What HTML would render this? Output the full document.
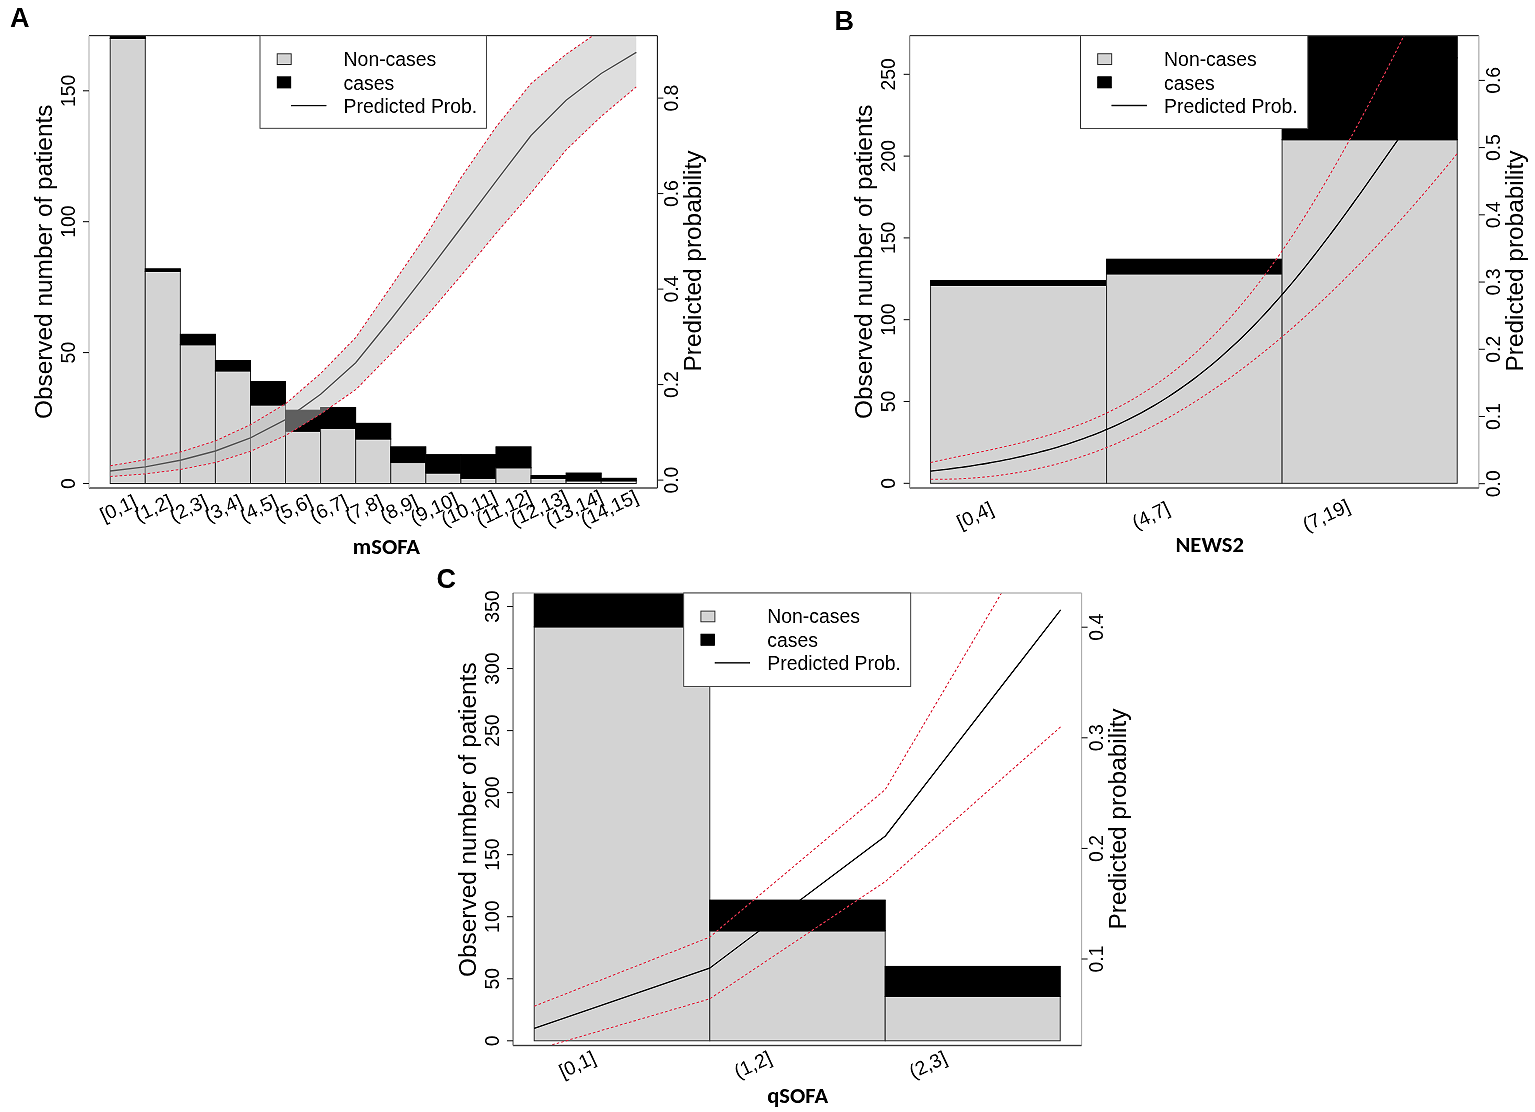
<!DOCTYPE html>
<html><head><meta charset="utf-8"><title>Figure</title><style>html,body{margin:0;padding:0;background:#fff;overflow:hidden;}svg{display:block;}</style></head><body>
<svg width="1535" height="1112" viewBox="0 0 1535 1112">
<rect width="100%" height="100%" fill="#fff"/>
<filter id="sh" x="0" y="0" width="1535" height="1112" filterUnits="userSpaceOnUse" color-interpolation-filters="sRGB"><feConvolveMatrix order="3" kernelMatrix="0 -0.15 0 -0.15 1.6 -0.15 0 -0.15 0" preserveAlpha="true"/></filter>
<g filter="url(#sh)">
<rect width="1535" height="1112" fill="#fff"/>
<defs><clipPath id="cA"><rect x="89" y="35.7" width="568.4" height="452.2"/></clipPath><clipPath id="cB"><rect x="909.65" y="35.7" width="568.85" height="452.2"/></clipPath><clipPath id="cC"><rect x="513.05" y="593.2" width="568.55" height="452.2"/></clipPath></defs>
<text x="10" y="27.2" font-family="Liberation Sans, Arimo, Arial, Helvetica, sans-serif" font-weight="bold" font-size="27">A</text>
<g clip-path="url(#cA)">
<rect x="110.2" y="38.44" width="35.07" height="445.06" fill="#d3d3d3" stroke="#3c3c3c" stroke-width="1"/>
<rect x="110.2" y="35.7" width="35.07" height="2.74" fill="#000" stroke="#000" stroke-width="1"/>
<rect x="145.27" y="271.44" width="35.07" height="212.06" fill="#d3d3d3" stroke="#3c3c3c" stroke-width="1"/>
<rect x="145.27" y="268.82" width="35.07" height="2.62" fill="#000" stroke="#000" stroke-width="1"/>
<rect x="180.34" y="344.75" width="35.07" height="138.75" fill="#d3d3d3" stroke="#3c3c3c" stroke-width="1"/>
<rect x="180.34" y="334.27" width="35.07" height="10.47" fill="#000" stroke="#000" stroke-width="1"/>
<rect x="215.41" y="370.93" width="35.07" height="112.57" fill="#d3d3d3" stroke="#3c3c3c" stroke-width="1"/>
<rect x="215.41" y="360.45" width="35.07" height="10.47" fill="#000" stroke="#000" stroke-width="1"/>
<rect x="250.48" y="404.96" width="35.07" height="78.54" fill="#d3d3d3" stroke="#3c3c3c" stroke-width="1"/>
<rect x="250.48" y="381.4" width="35.07" height="23.56" fill="#000" stroke="#000" stroke-width="1"/>
<rect x="285.55" y="431.14" width="35.07" height="52.36" fill="#d3d3d3" stroke="#3c3c3c" stroke-width="1"/>
<rect x="285.55" y="410.2" width="35.07" height="20.94" fill="#000" stroke="#000" stroke-width="1"/>
<rect x="320.62" y="428.52" width="35.07" height="54.98" fill="#d3d3d3" stroke="#3c3c3c" stroke-width="1"/>
<rect x="320.62" y="407.58" width="35.07" height="20.94" fill="#000" stroke="#000" stroke-width="1"/>
<rect x="355.69" y="438.99" width="35.07" height="44.51" fill="#d3d3d3" stroke="#3c3c3c" stroke-width="1"/>
<rect x="355.69" y="423.29" width="35.07" height="15.71" fill="#000" stroke="#000" stroke-width="1"/>
<rect x="390.76" y="462.56" width="35.07" height="20.94" fill="#d3d3d3" stroke="#3c3c3c" stroke-width="1"/>
<rect x="390.76" y="446.85" width="35.07" height="15.71" fill="#000" stroke="#000" stroke-width="1"/>
<rect x="425.83" y="473.03" width="35.07" height="10.47" fill="#d3d3d3" stroke="#3c3c3c" stroke-width="1"/>
<rect x="425.83" y="454.7" width="35.07" height="18.33" fill="#000" stroke="#000" stroke-width="1"/>
<rect x="460.9" y="478.26" width="35.07" height="5.24" fill="#d3d3d3" stroke="#3c3c3c" stroke-width="1"/>
<rect x="460.9" y="454.7" width="35.07" height="23.56" fill="#000" stroke="#000" stroke-width="1"/>
<rect x="495.97" y="467.79" width="35.07" height="15.71" fill="#d3d3d3" stroke="#3c3c3c" stroke-width="1"/>
<rect x="495.97" y="446.85" width="35.07" height="20.94" fill="#000" stroke="#000" stroke-width="1"/>
<rect x="531.04" y="478.26" width="35.07" height="5.24" fill="#d3d3d3" stroke="#3c3c3c" stroke-width="1"/>
<rect x="531.04" y="475.65" width="35.07" height="2.62" fill="#000" stroke="#000" stroke-width="1"/>
<rect x="566.11" y="480.88" width="35.07" height="2.62" fill="#d3d3d3" stroke="#3c3c3c" stroke-width="1"/>
<rect x="566.11" y="473.03" width="35.07" height="7.85" fill="#000" stroke="#000" stroke-width="1"/>
<rect x="601.18" y="480.88" width="35.07" height="2.62" fill="#d3d3d3" stroke="#3c3c3c" stroke-width="1"/>
<rect x="601.18" y="478.26" width="35.07" height="2.62" fill="#000" stroke="#000" stroke-width="1"/>
<polyline points="110.2,471 145.27,466.9 180.34,460.3 215.41,451 250.48,437.8 285.55,419.6 320.62,394.2 355.69,362.8 390.76,319.5 425.83,274.4 460.9,228 495.97,181.3 531.04,135.5 566.11,100.2 601.18,73.5 636.25,52.3" fill="none" stroke="#000" stroke-width="1.4"/>
<polygon points="110.2,465.8 145.27,459.8 180.34,452 215.41,440.9 250.48,424.7 285.55,403.8 320.62,373.5 355.69,337.6 390.76,287 425.83,235.8 460.9,177.9 495.97,127.1 531.04,83.6 566.11,54.3 601.18,29.9 636.25,10 636.25,86.9 601.18,116.4 566.11,149.9 531.04,192.9 495.97,233.4 460.9,275.8 425.83,316.9 390.76,354.1 355.69,389.7 320.62,414 285.55,435.5 250.48,451.3 215.41,462.5 180.34,469.5 145.27,473.9 110.2,476.5" fill="#bebebe" fill-opacity="0.5" stroke="none"/>
<polyline points="110.2,465.8 145.27,459.8 180.34,452 215.41,440.9 250.48,424.7 285.55,403.8 320.62,373.5 355.69,337.6 390.76,287 425.83,235.8 460.9,177.9 495.97,127.1 531.04,83.6 566.11,54.3 601.18,29.9 636.25,10" fill="none" stroke="#e0344c" stroke-width="1.05" stroke-dasharray="2.6 2.1"/>
<polyline points="110.2,476.5 145.27,473.9 180.34,469.5 215.41,462.5 250.48,451.3 285.55,435.5 320.62,414 355.69,389.7 390.76,354.1 425.83,316.9 460.9,275.8 495.97,233.4 531.04,192.9 566.11,149.9 601.18,116.4 636.25,86.9" fill="none" stroke="#e0344c" stroke-width="1.05" stroke-dasharray="2.6 2.1"/>
</g>
<line x1="89" y1="35.7" x2="657.4" y2="35.7" stroke="#4a4a4a" stroke-width="1.2"/>
<line x1="657.4" y1="35.7" x2="657.4" y2="487.9" stroke="#454545" stroke-width="1.2"/>
<line x1="89" y1="487.9" x2="657.4" y2="487.9" stroke="#5a5a5a" stroke-width="1.5"/>
<line x1="89" y1="35.7" x2="89" y2="487.9" stroke="#c4c4c4" stroke-width="1.3"/>
<rect x="260" y="35.7" width="226.4" height="92.6" fill="#fff" stroke="#555" stroke-width="1"/>
<rect x="277.2" y="53.8" width="14" height="10.7" fill="#d3d3d3" stroke="#444" stroke-width="1"/>
<rect x="277.2" y="76.8" width="13.6" height="11.2" fill="#000" stroke="#000" stroke-width="0.8"/>
<line x1="291" y1="105.6" x2="326.4" y2="105.6" stroke="#000" stroke-width="1.4"/>
<text x="343.6" y="66" font-family="Liberation Sans, Arimo, Arial, Helvetica, sans-serif" font-size="19.4">Non-cases</text>
<text x="343.6" y="89.8" font-family="Liberation Sans, Arimo, Arial, Helvetica, sans-serif" font-size="19.4">cases</text>
<text x="343.6" y="112.8" font-family="Liberation Sans, Arimo, Arial, Helvetica, sans-serif" font-size="19.4">Predicted Prob.</text>
<line x1="83" y1="483.5" x2="89" y2="483.5" stroke="#333" stroke-width="1.1"/>
<text transform="translate(74.8,483.5) rotate(-90)" text-anchor="middle" font-family="Liberation Sans, Arimo, Arial, Helvetica, sans-serif" font-size="19.4">0</text>
<line x1="83" y1="352.6" x2="89" y2="352.6" stroke="#333" stroke-width="1.1"/>
<text transform="translate(74.8,352.6) rotate(-90)" text-anchor="middle" font-family="Liberation Sans, Arimo, Arial, Helvetica, sans-serif" font-size="19.4">50</text>
<line x1="83" y1="221.7" x2="89" y2="221.7" stroke="#333" stroke-width="1.1"/>
<text transform="translate(74.8,221.7) rotate(-90)" text-anchor="middle" font-family="Liberation Sans, Arimo, Arial, Helvetica, sans-serif" font-size="19.4">100</text>
<line x1="83" y1="90.8" x2="89" y2="90.8" stroke="#333" stroke-width="1.1"/>
<text transform="translate(74.8,90.8) rotate(-90)" text-anchor="middle" font-family="Liberation Sans, Arimo, Arial, Helvetica, sans-serif" font-size="19.4">150</text>
<line x1="657.4" y1="480.1" x2="663.4" y2="480.1" stroke="#333" stroke-width="1.1"/>
<text transform="translate(678.3,480.1) rotate(-90)" text-anchor="middle" font-family="Liberation Sans, Arimo, Arial, Helvetica, sans-serif" font-size="19.4">0.0</text>
<line x1="657.4" y1="384.6" x2="663.4" y2="384.6" stroke="#333" stroke-width="1.1"/>
<text transform="translate(678.3,384.6) rotate(-90)" text-anchor="middle" font-family="Liberation Sans, Arimo, Arial, Helvetica, sans-serif" font-size="19.4">0.2</text>
<line x1="657.4" y1="289.1" x2="663.4" y2="289.1" stroke="#333" stroke-width="1.1"/>
<text transform="translate(678.3,289.1) rotate(-90)" text-anchor="middle" font-family="Liberation Sans, Arimo, Arial, Helvetica, sans-serif" font-size="19.4">0.4</text>
<line x1="657.4" y1="193.6" x2="663.4" y2="193.6" stroke="#333" stroke-width="1.1"/>
<text transform="translate(678.3,193.6) rotate(-90)" text-anchor="middle" font-family="Liberation Sans, Arimo, Arial, Helvetica, sans-serif" font-size="19.4">0.6</text>
<line x1="657.4" y1="98.1" x2="663.4" y2="98.1" stroke="#333" stroke-width="1.1"/>
<text transform="translate(678.3,98.1) rotate(-90)" text-anchor="middle" font-family="Liberation Sans, Arimo, Arial, Helvetica, sans-serif" font-size="19.4">0.8</text>
<text transform="translate(51.6,261.8) rotate(-90)" text-anchor="middle" font-family="Liberation Sans, Arimo, Arial, Helvetica, sans-serif" font-size="24.4">Observed number of patients</text>
<text transform="translate(701.3,261) rotate(-90)" text-anchor="middle" font-family="Liberation Sans, Arimo, Arial, Helvetica, sans-serif" font-size="24.4">Predicted probability</text>
<text transform="translate(120.99,514.15) rotate(-25)" text-anchor="middle" font-family="Liberation Sans, Arimo, Arial, Helvetica, sans-serif" font-size="19.4">[0,1]</text>
<text transform="translate(156.06,514.15) rotate(-25)" text-anchor="middle" font-family="Liberation Sans, Arimo, Arial, Helvetica, sans-serif" font-size="19.4">(1,2]</text>
<text transform="translate(191.12,514.15) rotate(-25)" text-anchor="middle" font-family="Liberation Sans, Arimo, Arial, Helvetica, sans-serif" font-size="19.4">(2,3]</text>
<text transform="translate(226.2,514.15) rotate(-25)" text-anchor="middle" font-family="Liberation Sans, Arimo, Arial, Helvetica, sans-serif" font-size="19.4">(3,4]</text>
<text transform="translate(261.26,514.15) rotate(-25)" text-anchor="middle" font-family="Liberation Sans, Arimo, Arial, Helvetica, sans-serif" font-size="19.4">(4,5]</text>
<text transform="translate(296.34,514.15) rotate(-25)" text-anchor="middle" font-family="Liberation Sans, Arimo, Arial, Helvetica, sans-serif" font-size="19.4">(5,6]</text>
<text transform="translate(331.4,514.15) rotate(-25)" text-anchor="middle" font-family="Liberation Sans, Arimo, Arial, Helvetica, sans-serif" font-size="19.4">(6,7]</text>
<text transform="translate(366.48,514.15) rotate(-25)" text-anchor="middle" font-family="Liberation Sans, Arimo, Arial, Helvetica, sans-serif" font-size="19.4">(7,8]</text>
<text transform="translate(401.54,514.15) rotate(-25)" text-anchor="middle" font-family="Liberation Sans, Arimo, Arial, Helvetica, sans-serif" font-size="19.4">(8,9]</text>
<text transform="translate(436.62,514.15) rotate(-25)" text-anchor="middle" font-family="Liberation Sans, Arimo, Arial, Helvetica, sans-serif" font-size="19.4">(9,10]</text>
<text transform="translate(471.68,514.15) rotate(-25)" text-anchor="middle" font-family="Liberation Sans, Arimo, Arial, Helvetica, sans-serif" font-size="19.4">(10,11]</text>
<text transform="translate(506.75,514.15) rotate(-25)" text-anchor="middle" font-family="Liberation Sans, Arimo, Arial, Helvetica, sans-serif" font-size="19.4">(11,12]</text>
<text transform="translate(541.83,514.15) rotate(-25)" text-anchor="middle" font-family="Liberation Sans, Arimo, Arial, Helvetica, sans-serif" font-size="19.4">(12,13]</text>
<text transform="translate(576.89,514.15) rotate(-25)" text-anchor="middle" font-family="Liberation Sans, Arimo, Arial, Helvetica, sans-serif" font-size="19.4">(13,14]</text>
<text transform="translate(611.97,514.15) rotate(-25)" text-anchor="middle" font-family="Liberation Sans, Arimo, Arial, Helvetica, sans-serif" font-size="19.4">(14,15]</text>
<text x="386.4" y="553.9" text-anchor="middle" font-family="Carlito, Calibri, Liberation Sans, sans-serif" font-weight="bold" font-size="22.6">mSOFA</text>
<text x="834.4" y="29.8" font-family="Liberation Sans, Arimo, Arial, Helvetica, sans-serif" font-weight="bold" font-size="27">B</text>
<g clip-path="url(#cB)">
<rect x="930.6" y="285.34" width="176" height="197.96" fill="#d3d3d3" stroke="#3c3c3c" stroke-width="1"/>
<rect x="930.6" y="280.44" width="176" height="4.91" fill="#000" stroke="#000" stroke-width="1"/>
<rect x="1106.6" y="273.89" width="175.5" height="209.41" fill="#d3d3d3" stroke="#3c3c3c" stroke-width="1"/>
<rect x="1106.6" y="259.17" width="175.5" height="14.72" fill="#000" stroke="#000" stroke-width="1"/>
<rect x="1282.1" y="139.74" width="175.1" height="343.56" fill="#d3d3d3" stroke="#3c3c3c" stroke-width="1"/>
<rect x="1282.1" y="35.65" width="175.1" height="104.09" fill="#000" stroke="#000" stroke-width="1"/>
<polyline points="930.6,471.15 934.99,470.66 939.38,470.15 943.76,469.63 948.15,469.08 952.54,468.52 956.93,467.94 961.32,467.33 965.71,466.71 970.1,466.06 974.48,465.38 978.87,464.69 983.26,463.97 987.65,463.22 992.04,462.45 996.43,461.65 1000.81,460.82 1005.2,459.96 1009.59,459.07 1013.98,458.16 1018.37,457.2 1022.75,456.22 1027.14,455.2 1031.53,454.15 1035.92,453.06 1040.31,451.93 1044.7,450.77 1049.09,449.56 1053.47,448.31 1057.86,447.03 1062.25,445.7 1066.64,444.32 1071.03,442.9 1075.41,441.43 1079.8,439.91 1084.19,438.34 1088.58,436.72 1092.97,435.05 1097.36,433.33 1101.75,431.55 1106.13,429.71 1110.52,427.81 1114.91,425.86 1119.3,423.84 1123.69,421.76 1128.08,419.62 1132.46,417.41 1136.85,415.14 1141.24,412.8 1145.63,410.38 1150.02,407.9 1154.4,405.34 1158.79,402.71 1163.18,400.01 1167.57,397.23 1171.96,394.37 1176.35,391.43 1180.74,388.41 1185.12,385.31 1189.51,382.13 1193.9,378.86 1198.29,375.51 1202.68,372.07 1207.07,368.55 1211.45,364.94 1215.84,361.24 1220.23,357.46 1224.62,353.58 1229.01,349.62 1233.39,345.57 1237.78,341.42 1242.17,337.19 1246.56,332.87 1250.95,328.45 1255.34,323.95 1259.72,319.36 1264.11,314.69 1268.5,309.92 1272.89,305.07 1277.28,300.13 1281.67,295.11 1286.06,290.01 1290.44,284.83 1294.83,279.56 1299.22,274.22 1303.61,268.81 1308,263.32 1312.38,257.76 1316.77,252.13 1321.16,246.44 1325.55,240.68 1329.94,234.87 1334.33,228.99 1338.72,223.07 1343.1,217.09 1347.49,211.07 1351.88,205.01 1356.27,198.91 1360.66,192.77 1365.05,186.6 1369.43,180.4 1373.82,174.19 1378.21,167.95 1382.6,161.7 1386.99,155.44 1391.38,149.17 1395.76,142.91 1400.15,136.64 1404.54,130.38 1408.93,124.14 1413.32,117.91 1417.71,111.7 1422.09,105.52 1426.48,99.36 1430.87,93.24 1435.26,87.15 1439.65,81.1 1444.04,75.1 1448.42,69.14 1452.81,63.24 1457.2,57.39" fill="none" stroke="#000" stroke-width="1.35"/>
<polyline points="930.6,462.51 934.99,461.55 939.38,460.6 943.76,459.66 948.15,458.73 952.54,457.81 956.93,456.9 961.32,455.98 965.71,455.07 970.1,454.16 974.48,453.25 978.87,452.33 983.26,451.4 987.65,450.46 992.04,449.51 996.43,448.55 1000.81,447.57 1005.2,446.56 1009.59,445.54 1013.98,444.5 1018.37,443.43 1022.75,442.33 1027.14,441.2 1031.53,440.04 1035.92,438.85 1040.31,437.62 1044.7,436.35 1049.09,435.04 1053.47,433.69 1057.86,432.29 1062.25,430.84 1066.64,429.35 1071.03,427.8 1075.41,426.19 1079.8,424.54 1084.19,422.82 1088.58,421.04 1092.97,419.2 1097.36,417.29 1101.75,415.32 1106.13,413.28 1110.52,411.16 1114.91,408.97 1119.3,406.7 1123.69,404.36 1128.08,401.93 1132.46,399.43 1136.85,396.83 1141.24,394.15 1145.63,391.38 1150.02,388.52 1154.4,385.56 1158.79,382.51 1163.18,379.36 1167.57,376.11 1171.96,372.76 1176.35,369.3 1180.74,365.73 1185.12,362.05 1189.51,358.27 1193.9,354.37 1198.29,350.35 1202.68,346.22 1207.07,341.97 1211.45,337.61 1215.84,333.13 1220.23,328.53 1224.62,323.82 1229.01,318.99 1233.39,314.03 1237.78,308.96 1242.17,303.77 1246.56,298.46 1250.95,293.03 1255.34,287.47 1259.72,281.79 1264.11,275.99 1268.5,270.07 1272.89,264.03 1277.28,257.85 1281.67,251.56 1286.06,245.14 1290.44,238.59 1294.83,231.93 1299.22,225.15 1303.61,218.26 1308,211.25 1312.38,204.13 1316.77,196.91 1321.16,189.59 1325.55,182.16 1329.94,174.64 1334.33,167.02 1338.72,159.32 1343.1,151.52 1347.49,143.63 1351.88,135.67 1356.27,127.62 1360.66,119.49 1365.05,111.29 1369.43,103.02 1373.82,94.68 1378.21,86.27 1382.6,77.8 1386.99,69.27 1391.38,60.67 1395.76,52.03 1400.15,43.33 1404.54,34.58 1408.93,25.79" fill="none" stroke="#e0344c" stroke-width="1.05" stroke-dasharray="2.6 2.1"/>
<polyline points="930.6,479.27 934.99,479.3 939.38,479.29 943.76,479.25 948.15,479.17 952.54,479.05 956.93,478.9 961.32,478.7 965.71,478.47 970.1,478.2 974.48,477.88 978.87,477.53 983.26,477.14 987.65,476.7 992.04,476.22 996.43,475.71 1000.81,475.14 1005.2,474.54 1009.59,473.89 1013.98,473.2 1018.37,472.46 1022.75,471.68 1027.14,470.85 1031.53,469.98 1035.92,469.06 1040.31,468.1 1044.7,467.08 1049.09,466.02 1053.47,464.92 1057.86,463.76 1062.25,462.56 1066.64,461.3 1071.03,460 1075.41,458.65 1079.8,457.24 1084.19,455.79 1088.58,454.28 1092.97,452.72 1097.36,451.11 1101.75,449.45 1106.13,447.73 1110.52,445.96 1114.91,444.14 1119.3,442.26 1123.69,440.33 1128.08,438.35 1132.46,436.31 1136.85,434.23 1141.24,432.09 1145.63,429.89 1150.02,427.65 1154.4,425.35 1158.79,423.01 1163.18,420.61 1167.57,418.16 1171.96,415.66 1176.35,413.11 1180.74,410.5 1185.12,407.85 1189.51,405.15 1193.9,402.4 1198.29,399.59 1202.68,396.74 1207.07,393.84 1211.45,390.89 1215.84,387.89 1220.23,384.85 1224.62,381.75 1229.01,378.6 1233.39,375.41 1237.78,372.17 1242.17,368.88 1246.56,365.54 1250.95,362.16 1255.34,358.73 1259.72,355.25 1264.11,351.73 1268.5,348.16 1272.89,344.54 1277.28,340.88 1281.67,337.17 1286.06,333.41 1290.44,329.61 1294.83,325.77 1299.22,321.88 1303.61,317.94 1308,313.96 1312.38,309.94 1316.77,305.87 1321.16,301.76 1325.55,297.6 1329.94,293.4 1334.33,289.16 1338.72,284.88 1343.1,280.55 1347.49,276.18 1351.88,271.77 1356.27,267.31 1360.66,262.82 1365.05,258.28 1369.43,253.7 1373.82,249.08 1378.21,244.42 1382.6,239.71 1386.99,234.97 1391.38,230.19 1395.76,225.36 1400.15,220.5 1404.54,215.59 1408.93,210.65 1413.32,205.66 1417.71,200.64 1422.09,195.57 1426.48,190.47 1430.87,185.33 1435.26,180.15 1439.65,174.93 1444.04,169.67 1448.42,164.37 1452.81,159.04 1457.2,153.66" fill="none" stroke="#e0344c" stroke-width="1.05" stroke-dasharray="2.6 2.1"/>
</g>
<line x1="909.65" y1="35.65" x2="1478.85" y2="35.65" stroke="#555" stroke-width="1.2"/>
<line x1="1478.85" y1="35.65" x2="1478.85" y2="487.9" stroke="#b4b4b4" stroke-width="1.2"/>
<line x1="909.65" y1="487.9" x2="1478.85" y2="487.9" stroke="#666" stroke-width="1.5"/>
<line x1="909.65" y1="35.65" x2="909.65" y2="487.9" stroke="#999" stroke-width="1.3"/>
<rect x="1080.5" y="35.65" width="227.3" height="92.75" fill="#fff" stroke="#555" stroke-width="1"/>
<rect x="1097.7" y="53.75" width="14" height="10.7" fill="#d3d3d3" stroke="#444" stroke-width="1"/>
<rect x="1097.7" y="76.75" width="13.6" height="11.2" fill="#000" stroke="#000" stroke-width="0.8"/>
<line x1="1111.5" y1="105.55" x2="1146.9" y2="105.55" stroke="#000" stroke-width="1.4"/>
<text x="1164.1" y="65.95" font-family="Liberation Sans, Arimo, Arial, Helvetica, sans-serif" font-size="19.4">Non-cases</text>
<text x="1164.1" y="89.75" font-family="Liberation Sans, Arimo, Arial, Helvetica, sans-serif" font-size="19.4">cases</text>
<text x="1164.1" y="112.75" font-family="Liberation Sans, Arimo, Arial, Helvetica, sans-serif" font-size="19.4">Predicted Prob.</text>
<line x1="903.65" y1="483.3" x2="909.65" y2="483.3" stroke="#333" stroke-width="1.1"/>
<text transform="translate(895.45,483.3) rotate(-90)" text-anchor="middle" font-family="Liberation Sans, Arimo, Arial, Helvetica, sans-serif" font-size="19.4">0</text>
<line x1="903.65" y1="401.5" x2="909.65" y2="401.5" stroke="#333" stroke-width="1.1"/>
<text transform="translate(895.45,401.5) rotate(-90)" text-anchor="middle" font-family="Liberation Sans, Arimo, Arial, Helvetica, sans-serif" font-size="19.4">50</text>
<line x1="903.65" y1="319.7" x2="909.65" y2="319.7" stroke="#333" stroke-width="1.1"/>
<text transform="translate(895.45,319.7) rotate(-90)" text-anchor="middle" font-family="Liberation Sans, Arimo, Arial, Helvetica, sans-serif" font-size="19.4">100</text>
<line x1="903.65" y1="237.9" x2="909.65" y2="237.9" stroke="#333" stroke-width="1.1"/>
<text transform="translate(895.45,237.9) rotate(-90)" text-anchor="middle" font-family="Liberation Sans, Arimo, Arial, Helvetica, sans-serif" font-size="19.4">150</text>
<line x1="903.65" y1="156.1" x2="909.65" y2="156.1" stroke="#333" stroke-width="1.1"/>
<text transform="translate(895.45,156.1) rotate(-90)" text-anchor="middle" font-family="Liberation Sans, Arimo, Arial, Helvetica, sans-serif" font-size="19.4">200</text>
<line x1="903.65" y1="74.3" x2="909.65" y2="74.3" stroke="#333" stroke-width="1.1"/>
<text transform="translate(895.45,74.3) rotate(-90)" text-anchor="middle" font-family="Liberation Sans, Arimo, Arial, Helvetica, sans-serif" font-size="19.4">250</text>
<line x1="1478.85" y1="483.7" x2="1484.85" y2="483.7" stroke="#333" stroke-width="1.1"/>
<text transform="translate(1499.75,483.7) rotate(-90)" text-anchor="middle" font-family="Liberation Sans, Arimo, Arial, Helvetica, sans-serif" font-size="19.4">0.0</text>
<line x1="1478.85" y1="416.48" x2="1484.85" y2="416.48" stroke="#333" stroke-width="1.1"/>
<text transform="translate(1499.75,416.48) rotate(-90)" text-anchor="middle" font-family="Liberation Sans, Arimo, Arial, Helvetica, sans-serif" font-size="19.4">0.1</text>
<line x1="1478.85" y1="349.26" x2="1484.85" y2="349.26" stroke="#333" stroke-width="1.1"/>
<text transform="translate(1499.75,349.26) rotate(-90)" text-anchor="middle" font-family="Liberation Sans, Arimo, Arial, Helvetica, sans-serif" font-size="19.4">0.2</text>
<line x1="1478.85" y1="282.04" x2="1484.85" y2="282.04" stroke="#333" stroke-width="1.1"/>
<text transform="translate(1499.75,282.04) rotate(-90)" text-anchor="middle" font-family="Liberation Sans, Arimo, Arial, Helvetica, sans-serif" font-size="19.4">0.3</text>
<line x1="1478.85" y1="214.82" x2="1484.85" y2="214.82" stroke="#333" stroke-width="1.1"/>
<text transform="translate(1499.75,214.82) rotate(-90)" text-anchor="middle" font-family="Liberation Sans, Arimo, Arial, Helvetica, sans-serif" font-size="19.4">0.4</text>
<line x1="1478.85" y1="147.6" x2="1484.85" y2="147.6" stroke="#333" stroke-width="1.1"/>
<text transform="translate(1499.75,147.6) rotate(-90)" text-anchor="middle" font-family="Liberation Sans, Arimo, Arial, Helvetica, sans-serif" font-size="19.4">0.5</text>
<line x1="1478.85" y1="80.38" x2="1484.85" y2="80.38" stroke="#333" stroke-width="1.1"/>
<text transform="translate(1499.75,80.38) rotate(-90)" text-anchor="middle" font-family="Liberation Sans, Arimo, Arial, Helvetica, sans-serif" font-size="19.4">0.6</text>
<text transform="translate(872.25,261.8) rotate(-90)" text-anchor="middle" font-family="Liberation Sans, Arimo, Arial, Helvetica, sans-serif" font-size="24.4">Observed number of patients</text>
<text transform="translate(1522.75,261) rotate(-90)" text-anchor="middle" font-family="Liberation Sans, Arimo, Arial, Helvetica, sans-serif" font-size="24.4">Predicted probability</text>
<text transform="translate(977.9,521.2) rotate(-25)" text-anchor="middle" font-family="Liberation Sans, Arimo, Arial, Helvetica, sans-serif" font-size="19.4">[0,4]</text>
<text transform="translate(1153.65,521.2) rotate(-25)" text-anchor="middle" font-family="Liberation Sans, Arimo, Arial, Helvetica, sans-serif" font-size="19.4">(4,7]</text>
<text transform="translate(1328.95,521.2) rotate(-25)" text-anchor="middle" font-family="Liberation Sans, Arimo, Arial, Helvetica, sans-serif" font-size="19.4">(7,19]</text>
<text x="1209.7" y="551.7" text-anchor="middle" font-family="Carlito, Calibri, Liberation Sans, sans-serif" font-weight="bold" font-size="22.6">NEWS2</text>
<text x="436.4" y="587.8" font-family="Liberation Sans, Arimo, Arial, Helvetica, sans-serif" font-weight="bold" font-size="27">C</text>
<g clip-path="url(#cC)">
<rect x="534.2" y="626.9" width="175.6" height="413.9" fill="#d3d3d3" stroke="#3c3c3c" stroke-width="1"/>
<rect x="534.2" y="593" width="175.6" height="33.9" fill="#000" stroke="#000" stroke-width="1"/>
<rect x="709.8" y="930.87" width="175.4" height="109.93" fill="#d3d3d3" stroke="#3c3c3c" stroke-width="1"/>
<rect x="709.8" y="900.1" width="175.4" height="30.77" fill="#000" stroke="#000" stroke-width="1"/>
<rect x="885.2" y="996.51" width="175" height="44.29" fill="#d3d3d3" stroke="#3c3c3c" stroke-width="1"/>
<rect x="885.2" y="966.36" width="175" height="30.15" fill="#000" stroke="#000" stroke-width="1"/>
<polyline points="534.2,1028.4 709.6,968.2 885.4,836 1060.7,609.9" fill="none" stroke="#000" stroke-width="1.3"/>
<polyline points="534.2,1006.2 709.6,937.2 885.2,789.6 1060.7,493" fill="none" stroke="#e0344c" stroke-width="1.05" stroke-dasharray="2.6 2.1"/>
<polyline points="534.2,1050.1 709.6,998.9 885.4,881.5 1060.7,726.8" fill="none" stroke="#e0344c" stroke-width="1.05" stroke-dasharray="2.6 2.1"/>
</g>
<line x1="513.05" y1="593" x2="1081.6" y2="593" stroke="#a0a0a0" stroke-width="1.2"/>
<line x1="1081.6" y1="593" x2="1081.6" y2="1045.4" stroke="#bcbcbc" stroke-width="1.2"/>
<line x1="513.05" y1="1045.4" x2="1081.6" y2="1045.4" stroke="#555" stroke-width="1.5"/>
<line x1="513.05" y1="593" x2="513.05" y2="1045.4" stroke="#777" stroke-width="1.3"/>
<rect x="683.7" y="593" width="227" height="93.4" fill="#fff" stroke="#555" stroke-width="1"/>
<rect x="700.9" y="611.1" width="14" height="10.7" fill="#d3d3d3" stroke="#444" stroke-width="1"/>
<rect x="700.9" y="634.1" width="13.6" height="11.2" fill="#000" stroke="#000" stroke-width="0.8"/>
<line x1="714.7" y1="662.9" x2="750.1" y2="662.9" stroke="#000" stroke-width="1.4"/>
<text x="767.3" y="623.3" font-family="Liberation Sans, Arimo, Arial, Helvetica, sans-serif" font-size="19.4">Non-cases</text>
<text x="767.3" y="647.1" font-family="Liberation Sans, Arimo, Arial, Helvetica, sans-serif" font-size="19.4">cases</text>
<text x="767.3" y="670.1" font-family="Liberation Sans, Arimo, Arial, Helvetica, sans-serif" font-size="19.4">Predicted Prob.</text>
<line x1="507.05" y1="1040.8" x2="513.05" y2="1040.8" stroke="#333" stroke-width="1.1"/>
<text transform="translate(498.55,1040.8) rotate(-90)" text-anchor="middle" font-family="Liberation Sans, Arimo, Arial, Helvetica, sans-serif" font-size="19.4">0</text>
<line x1="507.05" y1="978.76" x2="513.05" y2="978.76" stroke="#333" stroke-width="1.1"/>
<text transform="translate(498.55,978.76) rotate(-90)" text-anchor="middle" font-family="Liberation Sans, Arimo, Arial, Helvetica, sans-serif" font-size="19.4">50</text>
<line x1="507.05" y1="916.73" x2="513.05" y2="916.73" stroke="#333" stroke-width="1.1"/>
<text transform="translate(498.55,916.73) rotate(-90)" text-anchor="middle" font-family="Liberation Sans, Arimo, Arial, Helvetica, sans-serif" font-size="19.4">100</text>
<line x1="507.05" y1="854.69" x2="513.05" y2="854.69" stroke="#333" stroke-width="1.1"/>
<text transform="translate(498.55,854.69) rotate(-90)" text-anchor="middle" font-family="Liberation Sans, Arimo, Arial, Helvetica, sans-serif" font-size="19.4">150</text>
<line x1="507.05" y1="792.66" x2="513.05" y2="792.66" stroke="#333" stroke-width="1.1"/>
<text transform="translate(498.55,792.66) rotate(-90)" text-anchor="middle" font-family="Liberation Sans, Arimo, Arial, Helvetica, sans-serif" font-size="19.4">200</text>
<line x1="507.05" y1="730.62" x2="513.05" y2="730.62" stroke="#333" stroke-width="1.1"/>
<text transform="translate(498.55,730.62) rotate(-90)" text-anchor="middle" font-family="Liberation Sans, Arimo, Arial, Helvetica, sans-serif" font-size="19.4">250</text>
<line x1="507.05" y1="668.59" x2="513.05" y2="668.59" stroke="#333" stroke-width="1.1"/>
<text transform="translate(498.55,668.59) rotate(-90)" text-anchor="middle" font-family="Liberation Sans, Arimo, Arial, Helvetica, sans-serif" font-size="19.4">300</text>
<line x1="507.05" y1="606.56" x2="513.05" y2="606.56" stroke="#333" stroke-width="1.1"/>
<text transform="translate(498.55,606.56) rotate(-90)" text-anchor="middle" font-family="Liberation Sans, Arimo, Arial, Helvetica, sans-serif" font-size="19.4">350</text>
<line x1="1081.6" y1="959" x2="1087.6" y2="959" stroke="#333" stroke-width="1.1"/>
<text transform="translate(1102.5,959) rotate(-90)" text-anchor="middle" font-family="Liberation Sans, Arimo, Arial, Helvetica, sans-serif" font-size="19.4">0.1</text>
<line x1="1081.6" y1="848.4" x2="1087.6" y2="848.4" stroke="#333" stroke-width="1.1"/>
<text transform="translate(1102.5,848.4) rotate(-90)" text-anchor="middle" font-family="Liberation Sans, Arimo, Arial, Helvetica, sans-serif" font-size="19.4">0.2</text>
<line x1="1081.6" y1="737.8" x2="1087.6" y2="737.8" stroke="#333" stroke-width="1.1"/>
<text transform="translate(1102.5,737.8) rotate(-90)" text-anchor="middle" font-family="Liberation Sans, Arimo, Arial, Helvetica, sans-serif" font-size="19.4">0.3</text>
<line x1="1081.6" y1="627.2" x2="1087.6" y2="627.2" stroke="#333" stroke-width="1.1"/>
<text transform="translate(1102.5,627.2) rotate(-90)" text-anchor="middle" font-family="Liberation Sans, Arimo, Arial, Helvetica, sans-serif" font-size="19.4">0.4</text>
<text transform="translate(475.65,819.7) rotate(-90)" text-anchor="middle" font-family="Liberation Sans, Arimo, Arial, Helvetica, sans-serif" font-size="24.4">Observed number of patients</text>
<text transform="translate(1125.5,819) rotate(-90)" text-anchor="middle" font-family="Liberation Sans, Arimo, Arial, Helvetica, sans-serif" font-size="24.4">Predicted probability</text>
<text transform="translate(580,1070.55) rotate(-25)" text-anchor="middle" font-family="Liberation Sans, Arimo, Arial, Helvetica, sans-serif" font-size="19.4">[0,1]</text>
<text transform="translate(755.5,1070.55) rotate(-25)" text-anchor="middle" font-family="Liberation Sans, Arimo, Arial, Helvetica, sans-serif" font-size="19.4">(1,2]</text>
<text transform="translate(930.7,1070.55) rotate(-25)" text-anchor="middle" font-family="Liberation Sans, Arimo, Arial, Helvetica, sans-serif" font-size="19.4">(2,3]</text>
<text x="797.65" y="1102.8" text-anchor="middle" font-family="Carlito, Calibri, Liberation Sans, sans-serif" font-weight="bold" font-size="22.6">qSOFA</text>
</g>
</svg>
</body></html>
